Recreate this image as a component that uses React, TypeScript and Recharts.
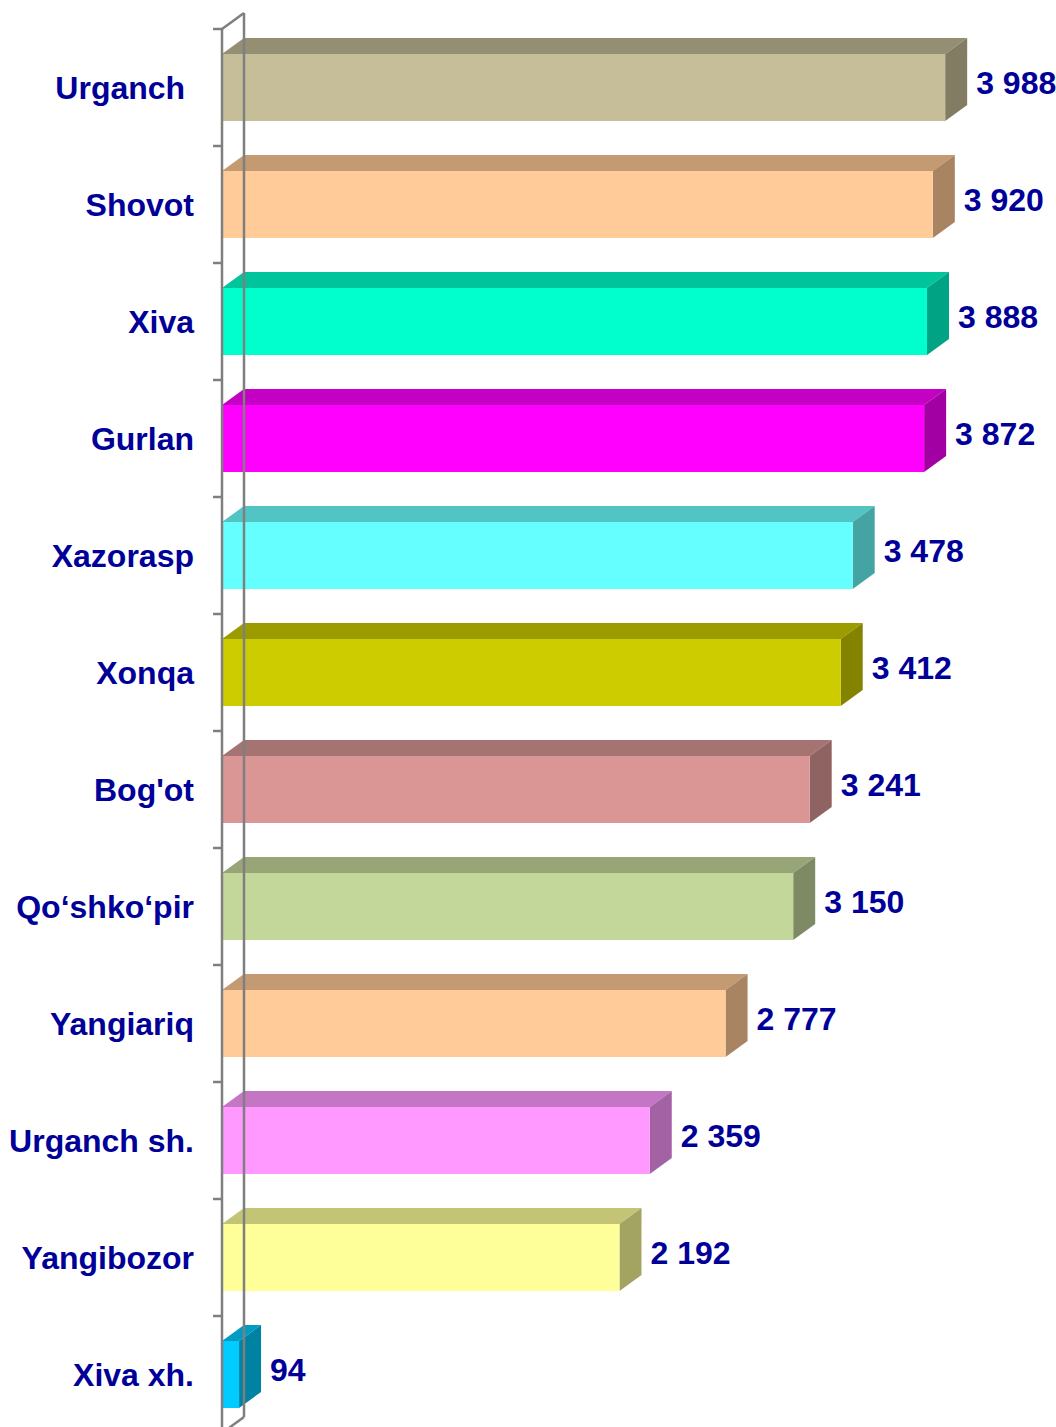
import React from "react";
import { BarChart, Bar, XAxis, YAxis, LabelList, ReferenceLine } from "recharts";

const districts = [
  "Urganch\u00A0",
  "Shovot",
  "Xiva",
  "Gurlan",
  "Xazorasp",
  "Xonqa",
  "Bog'ot",
  "Qo\u2018shko\u2018pir",
  "Yangiariq",
  "Urganch sh.",
  "Yangibozor",
  "Xiva xh.",
];
const values = [3988, 3920, 3888, 3872, 3478, 3412, 3241, 3150, 2777, 2359, 2192, 94];

const frontColors = [
  "#C6BE98", "#FFCC99", "#00FFCC", "#FF00FF", "#66FFFF", "#CCCC00",
  "#DA9694", "#C4D79B", "#FFCC99", "#FF99FF", "#FFFF99", "#00CCFF",
];
const topColors = [
  "#948E72", "#C49A72", "#00C49C", "#C400C4", "#52C4C4", "#9C9C00",
  "#A57371", "#97A577", "#C49A72", "#C476C4", "#C4C476", "#009CC4",
];
const sideColors = [
  "#827C62", "#A88462", "#00A383", "#A300A3", "#44A3A3", "#838300",
  "#8E6361", "#7E8A63", "#A88462", "#A362A3", "#A3A362", "#0083A3",
];

const data = districts.map((name, i) => ({ name, value: values[i], idx: i }));

const DX = 22;
const DY = 16;
const TEXT = "#000099";
const AXIS = "#7F7F7F";
const FONT = "'Liberation Sans', Arial, sans-serif";

const Bar3D = (props: any) => {
  const { x, y, width, height, payload } = props;
  const i = payload.idx;
  const r = x + width;
  return (
    <g>
      <polygon
        points={`${x},${y} ${x + DX},${y - DY} ${r + DX},${y - DY} ${r},${y}`}
        fill={topColors[i]}
      />
      <polygon
        points={`${r},${y} ${r + DX},${y - DY} ${r + DX},${y + height - DY} ${r},${y + height}`}
        fill={sideColors[i]}
      />
      <rect x={x} y={y} width={width} height={height} fill={frontColors[i]} />
    </g>
  );
};

const ValueLabel = (props: any) => {
  const { x, y, width, height, value } = props;
  const s = String(value).replace(/\B(?=(\d{3})+(?!\d))/g, " ");
  return (
    <text
      x={x + width + DX + 9}
      y={y + height / 2 - 5}
      fill={TEXT}
      fontSize={32}
      fontWeight="bold"
      fontFamily={FONT}
      dominantBaseline="central"
    >
      {s}
    </text>
  );
};

const CategoryTick = (props: any) => {
  const { x, y, payload } = props;
  const half = payload && payload.offset ? payload.offset : 58.5;
  const axisX = x + 28;
  return (
    <g>
      <line x1={axisX - 9} x2={axisX} y1={y - half} y2={y - half} stroke={AXIS} strokeWidth={2.5} />
      <text
        x={x}
        y={y}
        textAnchor="end"
        dominantBaseline="central"
        fill={TEXT}
        fontSize={32}
        fontWeight="bold"
        fontFamily={FONT}
      >
        {payload.value}
      </text>
    </g>
  );
};

const Wall = (props: any) => {
  const { x1, y1, y2 } = props;
  const top = Math.min(y1, y2);
  const bottom = Math.max(y1, y2);
  return (
    <g stroke={AXIS} strokeWidth={2.5} fill="none">
      <line x1={x1} y1={top} x2={x1} y2={bottom} />
      <line x1={x1 + DX} y1={top - DY} x2={x1 + DX} y2={bottom - DY} />
      <line x1={x1} y1={top} x2={x1 + DX} y2={top - DY} />
      <line x1={x1} y1={bottom} x2={x1 + DX} y2={bottom - DY} />
    </g>
  );
};

export default function App() {
  return (
    <div style={{ position: "absolute", left: 0, top: 0, width: 1056, height: 1427, overflow: "hidden", background: "#fff" }}>
      <BarChart
        width={1056}
        height={1440}
        data={data}
        layout="vertical"
        margin={{ top: 29, right: 18, bottom: 7, left: 0 }}
        barCategoryGap={25}
      >
        <XAxis type="number" domain={[0, 4500]} hide />
        <YAxis
          type="category"
          dataKey="name"
          width={222}
          axisLine={false}
          tickLine={false}
          tickSize={0}
          tickMargin={28}
          tick={<CategoryTick />}
          interval={0}
        />
        <ReferenceLine x={0} ifOverflow="visible" shape={<Wall />} />
        <Bar dataKey="value" barSize={67} shape={<Bar3D />} isAnimationActive={false}>
          <LabelList dataKey="value" content={<ValueLabel />} />
        </Bar>
      </BarChart>
    </div>
  );
}
